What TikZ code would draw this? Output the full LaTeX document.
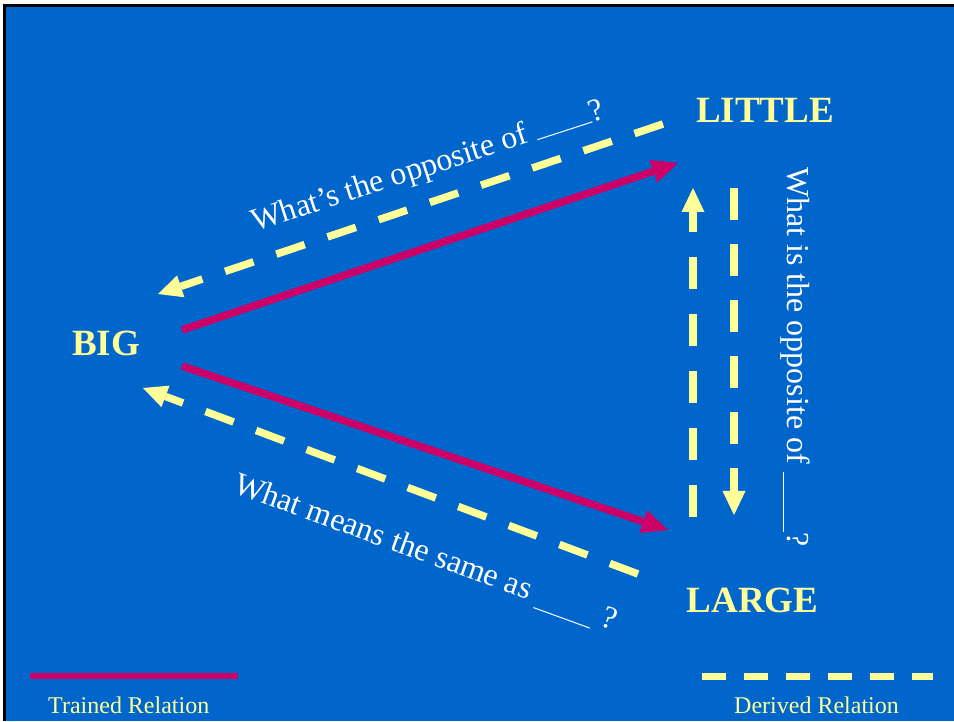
\documentclass[tikz,border=0pt]{standalone}
\usepackage{fontspec}
\setmainfont{Liberation Serif}
\usetikzlibrary{arrows.meta}
\definecolor{slideblue}{HTML}{0066CC}
\definecolor{trainpink}{HTML}{CC0066}
\definecolor{derivedyellow}{HTML}{FFFF99}

\begin{document}
\begin{tikzpicture}[
  x=1pt, y=1pt,
  term/.style={text=derivedyellow, inner sep=0pt,
               font=\fontsize{37}{40}\selectfont\bfseries},
  question/.style={text=white, inner sep=0pt, anchor=base west,
                   font=\fontsize{32}{36}\selectfont},
  keytext/.style={text=derivedyellow, inner sep=0pt, anchor=base west,
                  font=\fontsize{24}{28}\selectfont},
  trained/.style={draw=trainpink, line width=7.5pt,
                  -{Triangle[length=26pt, width=24pt, line width=0pt]}},
  derived/.style={draw=derivedyellow, line width=7.5pt,
                  dash pattern=on 30pt off 24pt,
                  -{Triangle[length=24pt, width=23pt, line width=0pt]}}
]
% slide background
\useasboundingbox (0,0) rectangle (954,721);
\fill[white] (0,0) rectangle (954,721);
\fill[black] (3,0) rectangle (954,717);
\fill[slideblue] (6,0) rectangle (954,714);

% the three words
\node[term] (big) at (106,377.5) {BIG};
\node[term] (little) at (765,610.5) {LITTLE};
\node[term] (large) at (752.5,121) {LARGE};

% trained relations
\draw[trained] ([shift={(76,13.5)}]big.center) -- ([shift={(-87,-52.5)}]little.center);
\draw[trained] ([shift={(76,-22.5)}]big.center) -- ([shift={(-84.5,70)}]large.center);

% derived relations
\draw[derived] ([shift={(-102,-13.5)}]little.center) -- ([shift={(52,49.5)}]big.center);
\draw[derived] ([shift={(-114.5,26)}]large.center) -- ([shift={(37,-44.5)}]big.center);
\draw[derived, dash pattern=on 32pt off 25pt]
  ([shift={(-59.5,83)}]large.center) -- ([shift={(-72,-77.5)}]little.center);
\draw[derived, dash pattern=on 32pt off 24pt]
  ([shift={(-31,-77.5)}]little.center) -- ([shift={(-18.5,85)}]large.center);

% questions
\node[question, rotate=18] (qtop) at (255,489)
  {What’s the opposite of \rule{58pt}{1pt}?};
\node[question, rotate=-20] (qbottom) at (232,229)
  {What means the same as \rule[-6pt]{60pt}{1pt}\ ?};
\node[question, rotate=-90] (qright) at (787,554)
  {What is the opposite of \rule[-4pt]{60pt}{1pt}?};

% legend
\node[keytext] (trainedkey) at (48,8) {Trained Relation};
\node[keytext] (derivedkey) at (734,8) {Derived Relation};
\draw[trainpink, line width=6pt] (30,45) -- (238,45);
\draw[derivedyellow, line width=7pt, dash pattern=on 24pt off 18pt] (702,45) -- (933,45);
\end{tikzpicture}
\end{document}
